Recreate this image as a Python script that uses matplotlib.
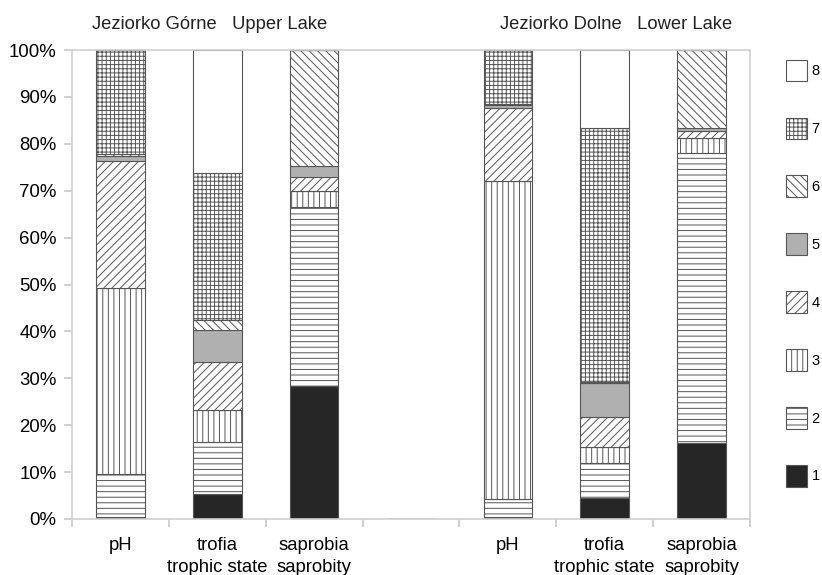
import matplotlib
matplotlib.use("Agg")
import matplotlib.pyplot as plt
import numpy as np
from matplotlib.patches import Patch
from matplotlib.ticker import PercentFormatter

plt.rcParams['font.family'] = ['Liberation Sans', 'DejaVu Sans']
plt.rcParams['hatch.linewidth'] = 0.7

# Categories (the empty slot separates the two lakes)
categories = ["pH", "trofia\ntrophic state", "saprobia\nsaprobity", "",
              "pH", "trofia\ntrophic state", "saprobia\nsaprobity"]
classes = ["1", "2", "3", "4", "5", "6", "7", "8"]

# percentage share of each class, per bar (empty slot = zeros)
c1 = [0.5, 5.3, 28.4, 0, 0.4, 4.5, 16.2]
c2 = [9.1, 11.1, 38.1, 0, 3.9, 7.5, 61.8]
c3 = [39.7, 6.8, 3.4, 0, 67.8, 3.4, 3.2]
c4 = [27.0, 10.3, 3.0, 0, 15.5, 6.3, 1.6]
c5 = [1.2, 6.8, 2.4, 0, 0.6, 7.3, 0.5]
c6 = [0.3, 2.1, 24.7, 0, 0.3, 0.3, 16.7]
c7 = [22.2, 31.3, 0, 0, 11.5, 54.1, 0]
c8 = [0, 26.3, 0, 0, 0, 16.6, 0]

groups = ["Jeziorko Górne   Upper Lake", "Jeziorko Dolne   Lower Lake"]

series = [c1, c2, c3, c4, c5, c6, c7, c8]
facecolors = ["#262626", "white", "white", "white", "#b0b0b0", "white", "white", "white"]
hatches = [None, "---", "|||", "////", None, "\\\\\\\\", "++++", None]

fig = plt.figure(figsize=(8.22, 5.75), dpi=100)
ax = fig.add_axes([0.0876, 0.0974, 0.8248, 0.8156])

x = np.arange(len(categories))
bottom = np.zeros(len(categories))
handles = []
for vals, fc, h, lab in zip(series, facecolors, hatches, classes):
    vals = np.array(vals, dtype=float)
    ax.bar(x, vals, 0.5, bottom=bottom, facecolor=fc, edgecolor="#555555",
           hatch=h, linewidth=0.8)
    bottom += vals
    handles.append(Patch(facecolor=fc, edgecolor="#555555", hatch=h, linewidth=0.8, label=lab))

ax.set_xlim(-0.5, len(categories) - 0.5)
ax.set_ylim(0, 100)
ax.yaxis.set_major_formatter(PercentFormatter(decimals=0))
ax.set_yticks(np.arange(0, 101, 10))
ax.set_xticks(np.arange(-0.5, len(categories), 1), minor=False)
ax.set_xticklabels([])
ax.set_xticks(x, minor=True)
ax.set_xticklabels(categories, minor=True, fontsize=13.3, linespacing=1.35)
ax.tick_params(axis="x", which="minor", length=0, pad=13)
ax.tick_params(axis="x", which="major", length=6, color="#c8c8c8", width=1.2)
ax.tick_params(axis="y", length=6, color="#c8c8c8", width=1.2, labelsize=13.4, pad=5)
for s in ["left", "bottom", "top", "right"]:
    ax.spines[s].set_color("#d0d0d0")
    ax.spines[s].set_linewidth(1.2)

# group titles
ax.text(0.92, 1.055, groups[0], transform=ax.get_xaxis_transform(), ha="center",
        va="center", fontsize=13.2, color="#222222")
ax.text(5.12, 1.055, groups[1], transform=ax.get_xaxis_transform(), ha="center",
        va="center", fontsize=13.2, color="#222222")

leg = fig.legend(handles=handles[::-1], loc="upper left", bbox_to_anchor=(0.9405, 0.919),
                 frameon=False, handlelength=1.45, handleheight=1.9, handletextpad=0.3,
                 labelspacing=2.49, fontsize=10.5)

fig.savefig("out.png", dpi=100)
